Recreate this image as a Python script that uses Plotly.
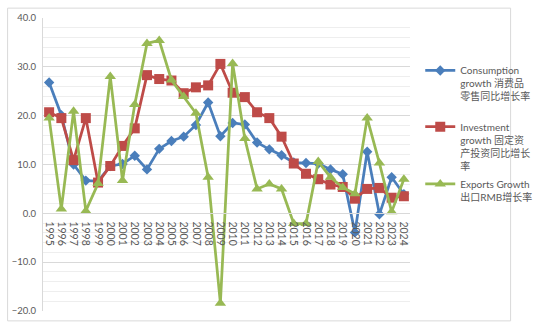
import plotly.graph_objects as go

years = [str(y) for y in range(1995, 2025)]

consumption = [26.8, 20.1, 10.0, 6.7, 6.6, 9.7, 10.1, 11.8, 9.0, 13.2,
               14.8, 15.7, 18.1, 22.7, 15.8, 18.5, 18.2, 14.5, 13.1, 11.9,
               10.4, 10.3, 10.2, 9.0, 8.0, -3.9, 12.6, -0.2, 7.4, 3.9]

investment = [20.7, 19.5, 10.9, 19.5, 6.3, 9.7, 13.8, 17.4, 28.3, 27.5,
              27.2, 24.6, 25.8, 26.2, 30.6, 24.7, 23.8, 20.7, 19.5, 15.7,
              10.2, 8.1, 7.0, 5.9, 5.4, 3.0, 5.0, 5.2, 3.2, 3.5]

exports = [19.5, 0.9, 20.9, 0.5, 6.1, 28.0, 6.7, 22.3, 34.8, 35.4,
           27.3, 23.9, 20.5, 7.4, -18.4, 30.7, 15.3, 5.0, 6.0, 5.0,
           -2.1, -2.1, 10.6, 7.4, 5.3, 4.0, 19.5, 10.3, 0.3, 7.0]

names = [
    "Consumption<br>growth 消费品<br>零售同比增长率",
    "Investment<br>growth 固定资<br>产投资同比增长<br>率",
    "Exports Growth<br>出口RMB增长率",
]
colors = ["#4A7EBB", "#BE4B48", "#98B954"]
symbols = ["diamond", "square", "triangle-up"]
sizes = [8, 10, 10]
series = [consumption, investment, exports]
legend_ids = ["legend", "legend2", "legend3"]

FONT = "Lato, Noto Sans CJK SC, sans-serif"
GREY = "#595959"

fig = go.Figure()
for vals, name, col, sym, sz, lg in zip(series, names, colors, symbols,
                                        sizes, legend_ids):
    fig.add_trace(go.Scatter(
        x=years, y=vals, name=name, mode="lines+markers", legend=lg,
        line=dict(color=col, width=2.75),
        marker=dict(symbol=sym, size=sz, color=col, line=dict(width=0)),
    ))

# plot-area geometry in pixels
L, R, T, B = 43, 113, 15, 16
W, H = 550, 328
pw, ph = W - L - R, H - T - B

def px_to_paper(xp, yp):
    return (xp - L) / pw, (H - B - yp) / ph

# outer chart frame
x0, y0 = px_to_paper(5, 322)
x1, y1 = px_to_paper(545, 5)
fig.add_shape(type="rect", xref="paper", yref="paper",
              x0=x0, y0=y0, x1=x1, y1=y1,
              line=dict(color="#D9D9D9", width=1), layer="below")

# one legend box per series, spaced evenly down the right side
legend_style = dict(xanchor="left", yanchor="top", valign="top",
                    font=dict(size=10, color=GREY, family=FONT),
                    itemwidth=30, bgcolor="rgba(0,0,0,0)")
legend_x, _ = px_to_paper(448, 0)
layout_legends = {}
for lg, top_px in zip(legend_ids, [55, 112, 170]):
    _, ly = px_to_paper(0, top_px)
    layout_legends[lg] = dict(x=legend_x, y=ly, **legend_style)

ymin, ymax = -20, 40
fig.update_layout(
    width=W, height=H,
    margin=dict(l=L, r=R, t=T, b=B),
    paper_bgcolor="white", plot_bgcolor="white",
    font=dict(family=FONT, color=GREY, size=10),
    showlegend=True,
    xaxis=dict(
        type="category", anchor="free",
        position=(0 - ymin) / (ymax - ymin),
        tickmode="array", tickvals=years, ticktext=years,
        tickangle=90, showgrid=False, showline=True,
        linecolor="#D9D9D9", linewidth=1, ticks="",
        ticklabelstandoff=5,
        tickfont=dict(size=10.5, color=GREY),
        range=[-0.5, len(years) - 0.5],
    ),
    yaxis=dict(
        range=[ymin, ymax], dtick=10, tickformat=".1f",
        showgrid=True, gridcolor="#D9D9D9", gridwidth=1,
        minor=dict(dtick=2, showgrid=True, gridcolor="#EEEEEE", gridwidth=1),
        showline=True, linecolor="#D9D9D9", linewidth=1,
        zeroline=False, ticks="", ticklabelstandoff=4,
        tickfont=dict(size=9.5, color=GREY),
    ),
    **layout_legends,
)

fig.write_html("out.html")
